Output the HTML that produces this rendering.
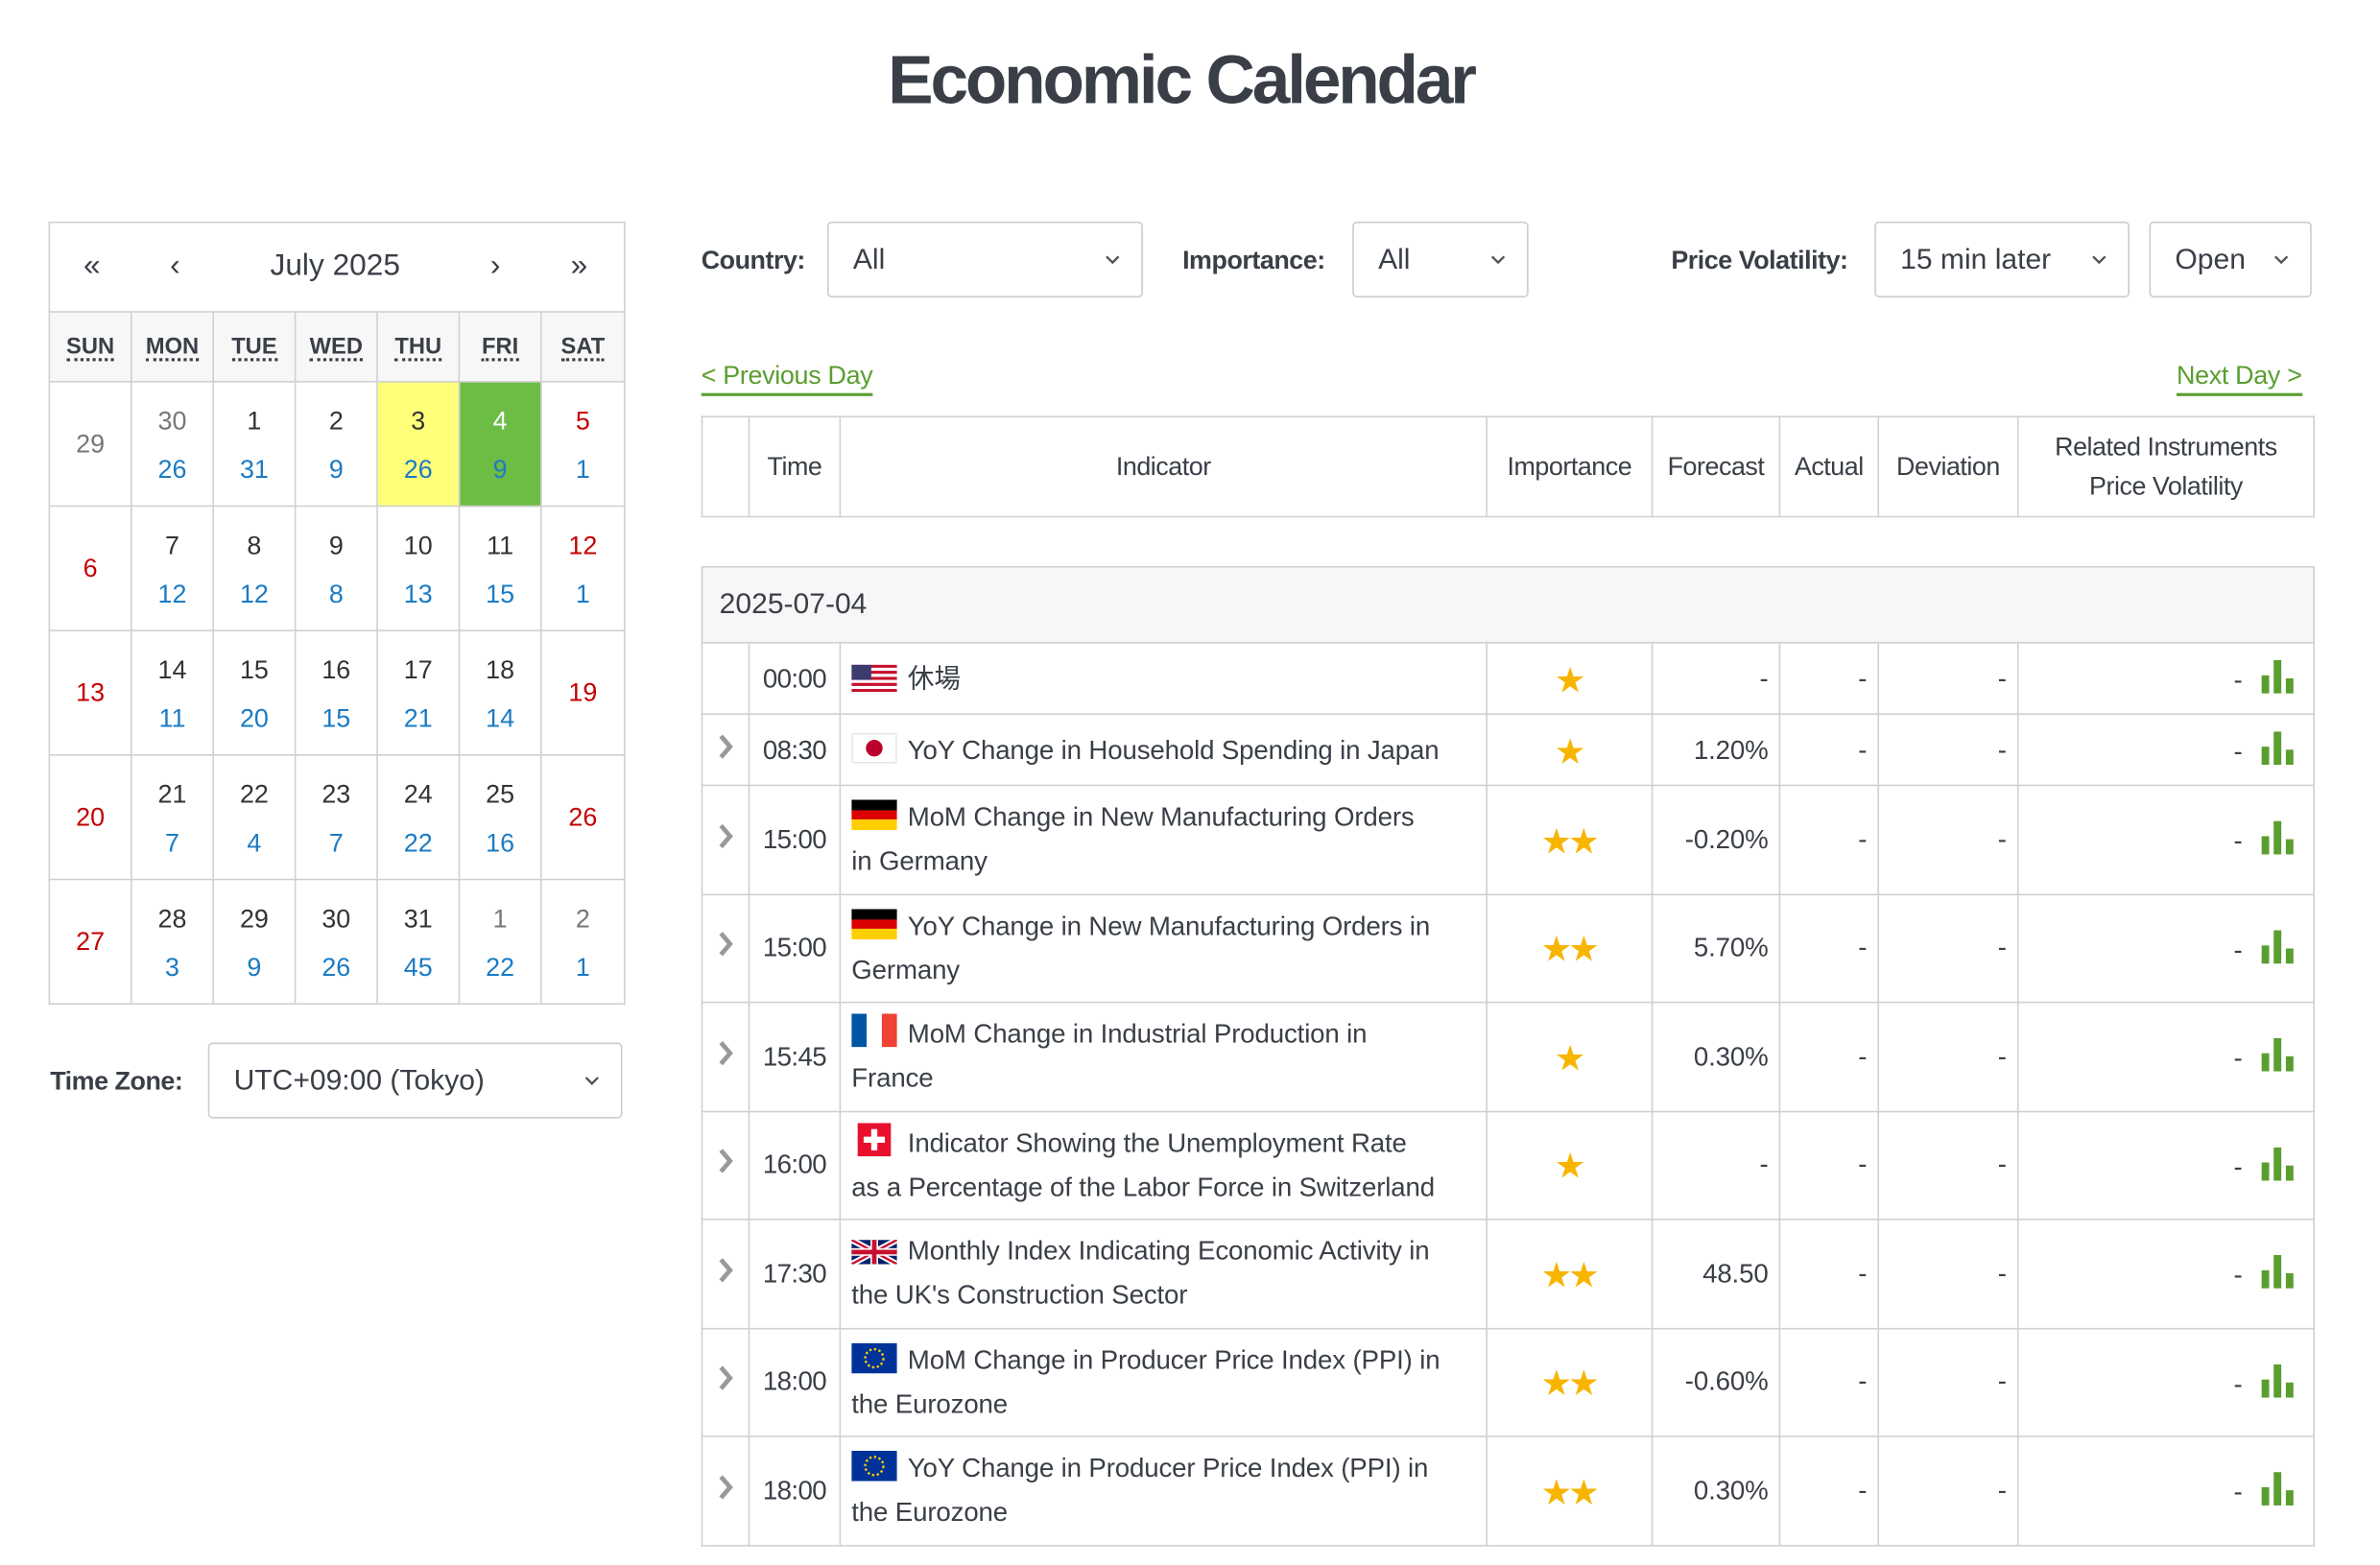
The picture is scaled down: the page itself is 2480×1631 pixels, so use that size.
<!DOCTYPE html>
<html><head><meta charset="utf-8">
<style>
*{box-sizing:border-box;margin:0;padding:0}
html,body{width:2480px;height:1630px;overflow:hidden;background:#fff}
#w{position:absolute;left:0;top:0;width:1568px;height:1031px;transform:scale(1.5816);transform-origin:0 0;font-family:"Liberation Sans","Noto Sans CJK JP",sans-serif;color:#3a3f47}
.a{position:absolute;white-space:nowrap}
h1{position:absolute;left:0;width:1556px;top:27px;text-align:center;font-size:45px;font-weight:bold;letter-spacing:-2px;color:#3a3f47}
table{border-collapse:collapse;position:absolute;table-layout:fixed}
td{border:1px solid #d0d0d0;padding:0}
#cal td{text-align:center;font-size:17px;color:#333;vertical-align:middle}
#cal .wd td{background:#f7f7f7;font-weight:bold;font-size:15px;color:#3a3f47}
#cal .wd span{border-bottom:2px dotted #3a3f47;line-height:14px;display:inline-block}
#cal .g{color:#777}#cal .r{color:#c40000}#cal .b{color:#1a7bc4}
#cal .n{display:block;line-height:32px;position:relative;top:1px}
.sel{position:absolute;border:1px solid #ccc;border-radius:3px;height:50px;font-size:19px;line-height:50px;padding-left:16px;color:#3a3f47}
.sel svg{position:absolute;top:21px}
.lbl{position:absolute;font-size:17px;font-weight:bold;line-height:52px;letter-spacing:-0.3px}
.lnk{position:absolute;font-size:17px;color:#5a9e2f;border-bottom:2px solid #5a9e2f;line-height:22px;letter-spacing:-0.2px}
#hd td{text-align:center;font-size:17px;color:#3a3f47;letter-spacing:-0.3px;line-height:26px}
#dt td{font-size:17.5px;color:#3a3f47;vertical-align:middle;letter-spacing:-0.1px}
#dt .dr td{background:#f7f7f7;font-size:19px;padding-left:11px;letter-spacing:0}
#dt .tm{text-align:center;letter-spacing:-0.4px}
#dt .ind{padding-left:7px;line-height:29px;white-space:nowrap}
.fl{display:inline-block;vertical-align:-3px;margin-right:7px}
#dt .st{text-align:center;color:#f7b500;font-size:19px;letter-spacing:-1px}
#dt .rt{text-align:right;padding-right:7px}
#dt .rel{text-align:right;padding-right:12px}
#dt .arw{text-align:center}
</style></head><body><div id="w">
<h1>Economic Calendar</h1>

<table id="cal" style="left:32px;top:146px;width:379px">
<colgroup><col style="width:54px"><col style="width:54px"><col style="width:54px"><col style="width:54px"><col style="width:54px"><col style="width:54px"><col style="width:55px"></colgroup>
<tr style="height:59px"><td colspan="7" style="border-bottom:1px solid #d0d0d0;position:relative;font-size:20px;color:#3a3f47">
<span class="a" style="left:22px;top:17px">«</span><span class="a" style="left:79px;top:17px">‹</span><span class="a" style="left:145px;top:17px">July 2025</span><span class="a" style="left:290px;top:17px">›</span><span class="a" style="left:343px;top:17px">»</span></td></tr>
<tr class="wd" style="height:46px"><td><span>SUN</span></td><td><span>MON</span></td><td><span>TUE</span></td><td><span>WED</span></td><td><span>THU</span></td><td><span>FRI</span></td><td><span>SAT</span></td></tr>
<tr style="height:82px"><td class="g">29</td><td><span class="n g">30</span><span class="n b">26</span></td><td><span class="n">1</span><span class="n b">31</span></td><td><span class="n">2</span><span class="n b">9</span></td><td style="background:#ffff7a"><span class="n">3</span><span class="n b">26</span></td><td style="background:#6dbd45"><span class="n" style="color:#fff">4</span><span class="n b">9</span></td><td><span class="n r">5</span><span class="n b">1</span></td></tr>
<tr style="height:82px"><td class="r">6</td><td><span class="n">7</span><span class="n b">12</span></td><td><span class="n">8</span><span class="n b">12</span></td><td><span class="n">9</span><span class="n b">8</span></td><td><span class="n">10</span><span class="n b">13</span></td><td><span class="n">11</span><span class="n b">15</span></td><td><span class="n r">12</span><span class="n b">1</span></td></tr>
<tr style="height:82px"><td class="r">13</td><td><span class="n">14</span><span class="n b">11</span></td><td><span class="n">15</span><span class="n b">20</span></td><td><span class="n">16</span><span class="n b">15</span></td><td><span class="n">17</span><span class="n b">21</span></td><td><span class="n">18</span><span class="n b">14</span></td><td class="r">19</td></tr>
<tr style="height:82px"><td class="r">20</td><td><span class="n">21</span><span class="n b">7</span></td><td><span class="n">22</span><span class="n b">4</span></td><td><span class="n">23</span><span class="n b">7</span></td><td><span class="n">24</span><span class="n b">22</span></td><td><span class="n">25</span><span class="n b">16</span></td><td class="r">26</td></tr>
<tr style="height:82px"><td class="r">27</td><td><span class="n">28</span><span class="n b">3</span></td><td><span class="n">29</span><span class="n b">9</span></td><td><span class="n">30</span><span class="n b">26</span></td><td><span class="n">31</span><span class="n b">45</span></td><td><span class="n g">1</span><span class="n b">22</span></td><td><span class="n g">2</span><span class="n b">1</span></td></tr>
</table>

<div class="lbl" style="left:33px;top:687px">Time Zone:</div>
<div class="sel" style="left:137px;top:687px;width:273px">UTC+09:00 (Tokyo)<svg style="left:247px" width="10" height="7"><polyline points="1,1 5,5 9,1" fill="none" stroke="#555" stroke-width="1.5"/></svg></div>

<div class="lbl" style="left:462px;top:146px">Country:</div>
<div class="sel" style="left:545px;top:146px;width:208px">All<svg style="left:182px" width="10" height="7"><polyline points="1,1 5,5 9,1" fill="none" stroke="#555" stroke-width="1.5"/></svg></div>
<div class="lbl" style="left:779px;top:146px">Importance:</div>
<div class="sel" style="left:891px;top:146px;width:116px">All<svg style="left:90px" width="10" height="7"><polyline points="1,1 5,5 9,1" fill="none" stroke="#555" stroke-width="1.5"/></svg></div>
<div class="lbl" style="left:1101px;top:146px">Price Volatility:</div>
<div class="sel" style="left:1235px;top:146px;width:168px">15 min later<svg style="left:142px" width="10" height="7"><polyline points="1,1 5,5 9,1" fill="none" stroke="#555" stroke-width="1.5"/></svg></div>
<div class="sel" style="left:1416px;top:146px;width:107px">Open<svg style="left:81px" width="10" height="7"><polyline points="1,1 5,5 9,1" fill="none" stroke="#555" stroke-width="1.5"/></svg></div>

<div class="lnk" style="left:462px;top:237px">&lt; Previous Day</div>
<div class="lnk" style="left:1434px;top:237px">Next Day &gt;</div>

<table id="hd" style="left:462px;top:274px;width:1062px;height:67px">
<colgroup><col style="width:31px"><col style="width:60px"><col style="width:426px"><col style="width:109px"><col style="width:84px"><col style="width:65px"><col style="width:92px"><col style="width:195px"></colgroup>
<tr><td></td><td>Time</td><td>Indicator</td><td>Importance</td><td>Forecast</td><td>Actual</td><td>Deviation</td><td>Related Instruments<br>Price Volatility</td></tr>
</table>

<table id="dt" style="left:462px;top:373px;width:1062px">
<colgroup><col style="width:31px"><col style="width:60px"><col style="width:426px"><col style="width:109px"><col style="width:84px"><col style="width:65px"><col style="width:92px"><col style="width:195px"></colgroup>
<tr class="dr" style="height:50px"><td colspan="8">2025-07-04</td></tr>

<tr style="height:47px"><td></td><td class="tm">00:00</td><td class="ind"><svg class="fl" width="30" height="18"><rect width="30" height="18" fill="#fff"/><g fill="#c8102e"><rect y="0" width="30" height="2"/><rect y="4" width="30" height="2"/><rect y="8" width="30" height="2"/><rect y="12" width="30" height="2"/><rect y="16" width="30" height="2"/></g><rect width="13" height="10" fill="#3c3b6e"/></svg>休場</td><td class="st">★</td><td class="rt">-</td><td class="rt">-</td><td class="rt">-</td><td class="rel">- <svg width="22" height="22" style="vertical-align:-3px;margin-left:8px"><g fill="#5a9e2f"><rect x="0" y="10" width="5" height="12"/><rect x="8" y="0" width="5" height="22"/><rect x="16" y="12" width="5" height="10"/></g></svg></td></tr>

<tr style="height:47px"><td class="arw"><svg width="10" height="16"><polyline points="2,1 8,8 2,15" fill="none" stroke="#999" stroke-width="3"/></svg></td><td class="tm">08:30</td><td class="ind"><svg class="fl" width="30" height="20"><rect x=".5" y=".5" width="29" height="19" fill="#fff" stroke="#e5e5e5"/><circle cx="15" cy="10" r="5.5" fill="#bc002d"/></svg>YoY Change in Household Spending in Japan</td><td class="st">★</td><td class="rt">1.20%</td><td class="rt">-</td><td class="rt">-</td><td class="rel">- <svg width="22" height="22" style="vertical-align:-3px;margin-left:8px"><g fill="#5a9e2f"><rect x="0" y="10" width="5" height="12"/><rect x="8" y="0" width="5" height="22"/><rect x="16" y="12" width="5" height="10"/></g></svg></td></tr>

<tr style="height:71.5px"><td class="arw"><svg width="10" height="16"><polyline points="2,1 8,8 2,15" fill="none" stroke="#999" stroke-width="3"/></svg></td><td class="tm">15:00</td><td class="ind"><svg class="fl" width="30" height="20"><rect width="30" height="7" fill="#000"/><rect y="7" width="30" height="6" fill="#dd0000"/><rect y="13" width="30" height="7" fill="#ffce00"/></svg>MoM Change in New Manufacturing Orders<br>in Germany</td><td class="st">★★</td><td class="rt">-0.20%</td><td class="rt">-</td><td class="rt">-</td><td class="rel">- <svg width="22" height="22" style="vertical-align:-3px;margin-left:8px"><g fill="#5a9e2f"><rect x="0" y="10" width="5" height="12"/><rect x="8" y="0" width="5" height="22"/><rect x="16" y="12" width="5" height="10"/></g></svg></td></tr>

<tr style="height:71.5px"><td class="arw"><svg width="10" height="16"><polyline points="2,1 8,8 2,15" fill="none" stroke="#999" stroke-width="3"/></svg></td><td class="tm">15:00</td><td class="ind"><svg class="fl" width="30" height="20"><rect width="30" height="7" fill="#000"/><rect y="7" width="30" height="6" fill="#dd0000"/><rect y="13" width="30" height="7" fill="#ffce00"/></svg>YoY Change in New Manufacturing Orders in<br>Germany</td><td class="st">★★</td><td class="rt">5.70%</td><td class="rt">-</td><td class="rt">-</td><td class="rel">- <svg width="22" height="22" style="vertical-align:-3px;margin-left:8px"><g fill="#5a9e2f"><rect x="0" y="10" width="5" height="12"/><rect x="8" y="0" width="5" height="22"/><rect x="16" y="12" width="5" height="10"/></g></svg></td></tr>

<tr style="height:71.5px"><td class="arw"><svg width="10" height="16"><polyline points="2,1 8,8 2,15" fill="none" stroke="#999" stroke-width="3"/></svg></td><td class="tm">15:45</td><td class="ind"><svg class="fl" width="30" height="22"><rect width="10" height="22" fill="#0055a4"/><rect x="10" width="10" height="22" fill="#fff"/><rect x="20" width="10" height="22" fill="#ef4135"/></svg>MoM Change in Industrial Production in<br>France</td><td class="st">★</td><td class="rt">0.30%</td><td class="rt">-</td><td class="rt">-</td><td class="rel">- <svg width="22" height="22" style="vertical-align:-3px;margin-left:8px"><g fill="#5a9e2f"><rect x="0" y="10" width="5" height="12"/><rect x="8" y="0" width="5" height="22"/><rect x="16" y="12" width="5" height="10"/></g></svg></td></tr>

<tr style="height:71.5px"><td class="arw"><svg width="10" height="16"><polyline points="2,1 8,8 2,15" fill="none" stroke="#999" stroke-width="3"/></svg></td><td class="tm">16:00</td><td class="ind"><svg class="fl" width="22" height="22" style="margin-left:4px;margin-right:11px"><rect width="22" height="22" fill="#e8112d"/><rect x="9" y="4" width="4" height="14" fill="#fff"/><rect x="4" y="9" width="14" height="4" fill="#fff"/></svg>Indicator Showing the Unemployment Rate<br>as a Percentage of the Labor Force in Switzerland</td><td class="st">★</td><td class="rt">-</td><td class="rt">-</td><td class="rt">-</td><td class="rel">- <svg width="22" height="22" style="vertical-align:-3px;margin-left:8px"><g fill="#5a9e2f"><rect x="0" y="10" width="5" height="12"/><rect x="8" y="0" width="5" height="22"/><rect x="16" y="12" width="5" height="10"/></g></svg></td></tr>

<tr style="height:71.5px"><td class="arw"><svg width="10" height="16"><polyline points="2,1 8,8 2,15" fill="none" stroke="#999" stroke-width="3"/></svg></td><td class="tm">17:30</td><td class="ind"><svg class="fl" width="30" height="16"><rect width="30" height="16" fill="#012169"/><path d="M0,0L30,16M30,0L0,16" stroke="#fff" stroke-width="4"/><path d="M0,0L30,16M30,0L0,16" stroke="#c8102e" stroke-width="1.5"/><path d="M15,0V16M0,8H30" stroke="#fff" stroke-width="5"/><path d="M15,0V16M0,8H30" stroke="#c8102e" stroke-width="3"/></svg>Monthly Index Indicating Economic Activity in<br>the UK's Construction Sector</td><td class="st">★★</td><td class="rt">48.50</td><td class="rt">-</td><td class="rt">-</td><td class="rel">- <svg width="22" height="22" style="vertical-align:-3px;margin-left:8px"><g fill="#5a9e2f"><rect x="0" y="10" width="5" height="12"/><rect x="8" y="0" width="5" height="22"/><rect x="16" y="12" width="5" height="10"/></g></svg></td></tr>

<tr style="height:71.5px"><td class="arw"><svg width="10" height="16"><polyline points="2,1 8,8 2,15" fill="none" stroke="#999" stroke-width="3"/></svg></td><td class="tm">18:00</td><td class="ind"><svg class="fl" width="30" height="20"><rect width="30" height="20" fill="#003399"/><circle cx="15" cy="10" r="6" fill="none" stroke="#ffcc00" stroke-width="1.5" stroke-dasharray="1.5 1.6"/></svg>MoM Change in Producer Price Index (PPI) in<br>the Eurozone</td><td class="st">★★</td><td class="rt">-0.60%</td><td class="rt">-</td><td class="rt">-</td><td class="rel">- <svg width="22" height="22" style="vertical-align:-3px;margin-left:8px"><g fill="#5a9e2f"><rect x="0" y="10" width="5" height="12"/><rect x="8" y="0" width="5" height="22"/><rect x="16" y="12" width="5" height="10"/></g></svg></td></tr>

<tr style="height:71.5px"><td class="arw"><svg width="10" height="16"><polyline points="2,1 8,8 2,15" fill="none" stroke="#999" stroke-width="3"/></svg></td><td class="tm">18:00</td><td class="ind"><svg class="fl" width="30" height="20"><rect width="30" height="20" fill="#003399"/><circle cx="15" cy="10" r="6" fill="none" stroke="#ffcc00" stroke-width="1.5" stroke-dasharray="1.5 1.6"/></svg>YoY Change in Producer Price Index (PPI) in<br>the Eurozone</td><td class="st">★★</td><td class="rt">0.30%</td><td class="rt">-</td><td class="rt">-</td><td class="rel">- <svg width="22" height="22" style="vertical-align:-3px;margin-left:8px"><g fill="#5a9e2f"><rect x="0" y="10" width="5" height="12"/><rect x="8" y="0" width="5" height="22"/><rect x="16" y="12" width="5" height="10"/></g></svg></td></tr>
</table>
</div></body></html>
